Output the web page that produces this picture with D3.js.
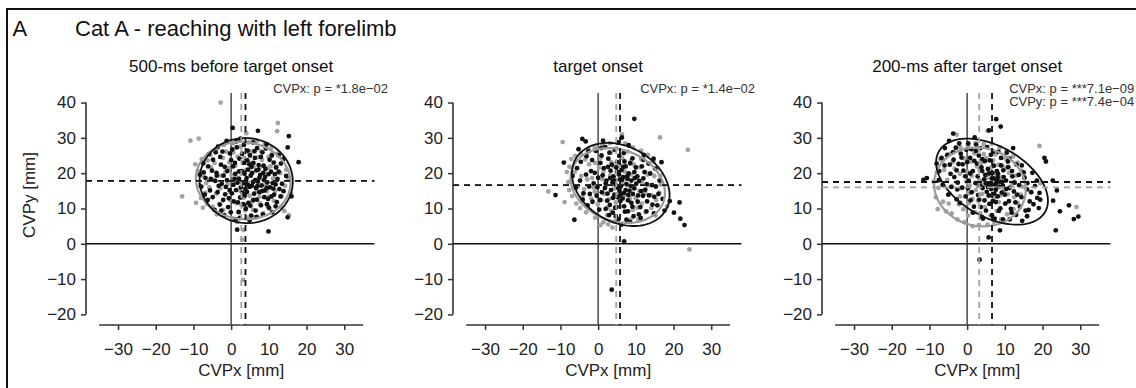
<!DOCTYPE html>
<html><head><meta charset="utf-8">
<script src="https://cdn.jsdelivr.net/npm/d3@7"></script>
<style>
html,body{margin:0;padding:0;background:#fff;}
svg{display:block;font-family:"Liberation Sans",Arial,Helvetica,sans-serif;}
</style></head>
<body><svg id="chart" width="1136" height="388"></svg>
<script>
// ---------- data ----------
const xTicks = [-30, -20, -10, 0, 10, 20, 30];
const yTicks = [-20, -10, 0, 10, 20, 30, 40];
const panelTitles = ["500-ms before target onset", "target onset", "200-ms after target onset"];
const pLabels = [
  ["CVPx: p = *1.8e\u221202"],
  ["CVPx: p = *1.4e\u221202"],
  ["CVPx: p = ***7.1e\u221209", "CVPy: p = ***7.4e\u221204"]
];
const grayMeanX = [2.7, 4.8, 3.2];
const blackMeanX = [3.8, 5.8, 6.6];
const grayMeanY = [17.8, 16.6, 16.0];
const blackMeanY = [17.8, 16.6, 17.5];
// ellipses: [cx, cy, semi-major, semi-minor, angle(deg)]
const grayEllipses = [[3.2, 17.9, 12.6, 10.9, -10], [5.2, 16.5, 13, 10, -25], [3.4, 16.1, 12.3, 11, -20]];
const blackEllipses = [[4.0, 17.9, 12.4, 12.0, -20], [6.0, 16.8, 14, 10.5, -35], [6.6, 17.6, 16.5, 9.8, -33]];

const p1Black = [
[0.4,32.8],[7.1,32],[15.3,30.5],[15,27.3],[17.9,23.1],[16,13.4],[15,7.5],[1.6,4],[9.9,3.5],[-7,13.9],
[-3.5,27.5],[-1.2,29.1],[2.5,29.8],[5.8,28.7],[9.4,28.2],[12.6,25.1],[-5.9,25.4],[-7.4,22.8],[-8.3,19.5],[-7.9,16.2],
[-6.2,12.4],[-4.4,9.6],[-1.8,8.1],[1.2,6.9],[4.9,6.6],[8.4,8.3],[11.8,10.6],[13.9,14.9],[14.6,19.2],[13.2,22.7],
[-5.1,20.7],[-4.2,17.8],[-3.6,14.6],[-2.7,22.4],[-2,19.3],[-1.4,16.1],[-0.6,12.9],[-0.3,25.6],[0.5,21.9],[0.9,18.4],
[1.3,15.2],[1.8,11.7],[2.2,24.1],[2.8,20.6],[3.1,17.1],[3.6,13.8],[3.9,9.9],[4.4,26.4],[4.8,22.5],[5.2,19.3],
[5.5,16.4],[5.9,12.4],[6.3,24.3],[6.7,20.8],[7.1,17.6],[7.5,14.6],[7.9,10.9],[8.3,25.9],[8.6,22.1],[9,18.9],
[9.4,15.8],[9.8,12.7],[10.2,23.8],[10.6,20.4],[11,17.2],[11.4,13.9],[11.9,21.6],[12.3,18.4],[12.8,15.5],[-3,11.1],
[-6.8,18.6],[-5.6,15.1],[-2.3,26.1],[0,23.7],[0.2,14.3],[1.5,27.3],[2,9],[2.6,16],[3.3,22.9],[4.1,18.6],
[4.6,11.6],[5,25],[5.6,20.1],[6.1,14.2],[6.5,9.4],[7.3,22.3],[7.7,19.5],[8.1,16.5],[8.8,13.2],[9.2,27],
[10,10.2],[10.8,25],[11.6,19.7],[12.1,11.8],[13.5,17],[-1,20.6],[-4.8,23.8],[-0.8,10.4],[3.4,28],[6.9,27.1],
[2.4,13.1],[5.3,8],[8.5,20],[-2.5,17],[1.1,19.8],[3.8,15.5],[6.4,18],[9.6,17.4],[-1.6,14],[4.5,21],
[-6.1,21.9],[-5.4,18.4],[-4.9,13.2],[-3.9,20.1],[-3.3,16.4],[-2.9,24.6],[-2.1,12.4],[-1.7,21.8],[-1.1,18],[-0.4,15.2],
[0.3,26.7],[0.7,12],[1,22.9],[1.7,17.3],[2.1,20.5],[2.9,25.5],[3.2,11.2],[3.5,19.9],[3.9,17.8],[4.2,14.7],
[4.3,23.6],[4.9,16.1],[5.1,10.8],[5.4,21.8],[5.8,17.5],[6.2,26.2],[6.6,15.8],[6.8,12.5],[7.2,21],[7.5,18.7],
[7.9,24.6],[8.2,14.9],[8.7,18],[9.1,21.2],[9.5,11.2],[9.9,19.7],[10.3,16],[10.7,13.4],[11.3,23],[11.8,16.8],
[12.6,20.4],[13.1,13.4],[-7.3,20.2],[-4.1,25.9],[-0.1,8.9],[2.3,7.3],[6.8,7.6],[10.9,8.9],[13.8,24],[1.4,29],
[-2.6,9.4],[0.6,16.7],[3,14.5],[5.9,22.9],[8.9,15.1],[11.2,15.6],[-3.8,19.3],[2.1,18.4],[7,16.3],[4.4,16.7]
];
const p1Gray = [
[-2.8,40],[-10.8,29.2],[-8.6,29.8],[12.4,34.2],[12.2,31.9],[-13,13.4],[-9.3,11.6],[-7.5,10.2],[14.1,9.3],[15.3,8.1],[4,31.3],
[-7.8,24],[-8.8,20.6],[-8.5,16.5],[-6.4,11.3],[-3.8,8.3],[0.4,7.2],[4.2,7.4],[8.5,8.6],[12.2,11.8],[14.3,16.4],[14.6,21],[12.4,25.6],[8.8,28],[4.6,28.7],[0.5,28.4],[-3.7,26.9],
[-5.3,21.6],[-4.6,18],[-4,14.2],[-2.2,24.3],[-1.5,20.4],[-0.9,16.9],[-0.2,12.4],[0.6,25.9],[1.1,22.1],[1.7,18.7],[2.2,15.1],[2.8,10.9],[3.5,24.4],[3.9,20.9],[4.5,17.3],[4.9,13.6],[5.5,26.1],[6,21.9],[6.6,18.1],[7,14.9],[7.6,11.5],[8.2,23.7],[8.7,20.3],[9.3,16.8],[9.9,13.3],[10.5,22],[11.1,18.5],[11.7,15],[-6.6,17.2],[-3.1,11.3],[1.9,8.9],[5.8,9.6],[10.8,25.4],
[-1.9,28],[2.5,27.5],[-6.2,23.6],[13,20],[3.3,13],[6.8,16.1],[0.1,19.5],[-2.9,15.7],[7.9,26.2],[9.7,10.7],[5.2,22.8],[2.7,20],[-0.5,23],[4.1,11],[11.3,12.2],
[3.2,-10.2],[2.9,1.2],[3.3,3.9],
[-7.2,19],[-6.9,14.4],[-5.5,25.2],[-4.9,10.5],[-2.1,9.6],[1.5,6.2],[6.3,7.5],[10.3,9.9],[13.4,13.4],[15.2,18.5],[13.8,23.6],[10.6,27.1],[6.8,29.1],[2.2,29.4],[-1.3,26.1],[-4.4,22.9],[-2.7,19.3],[-0.4,14.8],[1.4,11.5],[3.7,9.5],[5.6,12],[7.5,13.3],[9.5,14.9],[11.6,17.1],[12.1,21.8],[9.9,24.6],[7.2,24.5],[4.7,25.7],[1.7,24.7],[-0.7,21.4],[0.8,17],[3.1,17.3],[5.3,19.7],[7.6,21.6],[9.9,21.5],[-5.8,16],[13.2,10.5],[-8,13],[15.9,14.2],[-9.5,22.5]
];
const p2Black = [
[9.6,35.4],[-4.2,29.7],[-3.3,29],[6.3,30.1],[-9.1,23],[-11.3,13.8],[-6.3,6.8],[3.6,-13],[6.9,0.7],[16.8,23.1],[19,12.1],[20.1,8.8],[21.6,11.7],[21.8,7.1],[22.9,5.3],[17.6,9.4],[12.1,25.2],
[-5.6,21.4],[-4.8,17.9],[-3.9,14.3],[-2.8,10.9],[-3.1,24.8],[-1.9,20.6],[-1.2,17.1],[-0.4,13.6],[0.3,9.7],[-0.6,26.3],[0.6,22.9],[1.2,19.4],[1.8,15.8],[2.4,12.2],[2.9,8.1],[1.9,27.4],[2.7,24.1],[3.3,20.7],[3.8,17.4],[4.3,13.9],[4.9,10.4],[5.3,6.9],[4.4,26.6],[5,23.1],[5.5,19.6],[6,16.2],[6.5,12.8],[7.1,9.1],[6.8,25.7],[7.3,21.9],[7.8,18.4],[8.3,15],[8.8,11.6],[9.4,7.8],[9.1,24.2],[9.6,20.3],[10.1,17],[10.6,13.7],[11.2,10.4],[11.6,21.9],[12,18.5],[12.5,15.3],[13,12],[13.8,19.9],[14.3,16.6],[14.9,13.3],[15.7,10.9],[16.3,17.9],
[4.6,16.8],[5.8,18.2],[6.9,14.4],[3.4,15.2],[7.5,16.9],[5.1,13.2],[6.2,20.9],[8.1,19.9],[4.1,19.1],[2.2,17.9],[9.2,14.1],[7.9,12.3],[3.1,11],[5.7,15],[6.6,18.9],[8.6,16.4],[1,14.6],[10.4,19.1],[4.8,21.6],[7,23.3],[2.6,21.8],[-2.4,16.2],[0,18.7],[11.9,13.6],[13.4,22.7],[10.8,8.3],[12.8,9.2],[0.9,25],[3.9,8.8],[6.1,5.4],[8.4,6.2],[-1.5,11.9],[15.1,21.3],
[-6.8,19.2],[-5.9,15.9],[-4.6,23.2],[-4.1,12.5],[-3.2,19.6],[-2.2,14.1],[-1.6,23.7],[-0.9,20.1],[-0.2,16],[0.5,12.4],[0.8,27.1],[1.5,21.4],[2,17.1],[2.5,14.2],[3,25.8],[3.6,22.4],[3.9,13],[4.2,17.9],[4.5,10.2],[5,20.4],[5.3,15.8],[5.6,24.9],[5.9,12.1],[6.3,18.1],[6.7,21.8],[6.9,10.6],[7.3,15.2],[7.7,19.1],[8,13.8],[8.5,22.8],[8.8,17.9],[9.1,10.5],[9.6,15.7],[10,21.6],[10.5,11.9],[10.9,17.8],[11.4,14.9],[12,23.8],[12.3,20.3],[12.9,16.9],[13.5,13.7],[14.4,11.1],[15.3,16.2],[16,14.1],[17.1,12.7],[14.8,8.6],[4.7,7.8],[2,9.9],[7.5,6.8],[11.3,7.3],[-2.6,26.2],[-5.2,26.8],[1.3,29.2],[5.2,28.7],[8.1,27.9],[14.7,24.1],[3.2,18.6],[6,14],[9.7,18.6],[7.9,9.2]
];
const p2Gray = [
[-9.4,28.8],[16.4,30.1],[23.8,26.6],[-13.2,14.8],[-8.9,11.8],[24.2,-1.6],[18.3,10.6],[6.3,31],[0.6,5.3],
[-7.6,21.8],[-7.9,17.5],[-6.9,13.5],[-4.8,10.1],[-6.1,24.9],[-2.6,26.9],[1.2,27.9],[5.3,28.6],[9.3,27.3],[13.2,25.2],[15.8,21.4],[16.6,16.8],[15.4,12.4],[12.6,8.9],[8.6,6.8],[4.3,6.3],[-0.8,7.4],
[-4.5,19.2],[-3.7,15.5],[-2.4,22.5],[-1.6,18.6],[-0.9,14.7],[-0.1,11.2],[0.7,24.4],[1.4,20.3],[2.1,16.5],[2.8,12.6],[3.5,9.3],[3.4,25.8],[4,22],[4.7,18.1],[5.4,14.3],[6,10.6],[6.4,24.2],[7.1,20.4],[7.7,16.6],[8.4,12.9],[9.2,9.6],[9.5,22.4],[10.2,18.7],[10.9,15],[11.6,11.4],[12.5,20.3],[13.3,16.6],[14.1,13.8],[-5.3,16.3],[2.4,8.1],[7.8,26.1],[11.4,24],[0.2,21.5],[6.5,17.5],[3.2,19.4],[8.8,19.6],[5.7,12.2],[-1.8,12.8],[1.7,14.1],[10.4,10.2],[14.9,19.2],[-3.4,23.9],[4.9,27],[3.8,4.6],
[-7.1,24],[-8.3,20.3],[-7.7,15.2],[-5.8,11.4],[-3.2,8.9],[1.4,6.1],[6.4,5.6],[10.7,6.9],[14.1,10.1],[16.2,14.5],[16.5,19.2],[14.7,23.3],[11.4,26.4],[7.2,28.4],[3.1,28.5],[-0.9,27.3],[-4.6,25.6],[-6.2,20.3],[-2.9,18.2],[-1.2,15.9],[0.9,12.3],[2.5,10.2],[4.7,11.7],[6.8,13.5],[8.9,15.6],[11.6,17.3],[13.1,19.6],[11.1,21.7],[8.8,23.6],[5.9,22.2],[3.5,23.1],[1.1,18.3],[-0.8,22.9],[4.2,15.6],[7.5,18.4],[10,12.9],[12.5,14.3],[-4.2,13.3],[15.2,8],[2.7,5.5]
];
const p3Black = [
[7.7,35.3],[8.9,33.2],[5.8,32.1],[-3.7,31.2],[5.7,1.8],[3.3,-4.5],[8.7,3.8],[20.5,24.3],[20.9,23.3],[22.7,17.9],[23.8,15.1],[22.8,12.2],[24.6,9.2],[27,10.9],[28.3,7],[29.5,7.7],[23.5,3.8],[19.4,12.5],[-10.7,18.6],[-11.6,18.1],[15.9,7.8],
[-6.8,24.3],[-5.9,27.1],[-7.4,20.6],[-6.5,16.7],[-5,13.9],[-4.6,22.4],[-3.8,25.9],[-3.4,18.9],[-2.6,15.4],[-1.9,11.6],[-2.1,28.4],[-1.2,22.5],[-0.5,19.1],[0.2,15.7],[0.9,12.3],[1.5,8.8],[-0.2,26.6],[0.8,24.3],[1.5,20.6],[2.2,17.2],[2.9,13.8],[3.6,10.4],[4.2,7.1],[2.4,28.1],[3.1,25],[3.8,21.6],[4.5,18.2],[5.2,14.7],[5.9,11.3],[6.6,8.1],[5.3,27.4],[6,23.6],[6.7,20.1],[7.4,16.8],[8.1,13.4],[8.8,10],[9.5,6.9],[8.3,26],[9,22.2],[9.7,18.9],[10.4,15.5],[11.1,12.1],[11.8,8.8],[11.2,24.1],[11.9,20.6],[12.6,17.3],[13.3,13.9],[14,10.5],[14.5,22.2],[15.2,18.7],[15.9,15.4],[16.6,12],[17.3,20.1],[18,16.3],[18.6,13],
[6.1,17.2],[7,18.5],[5.5,16.1],[7.8,17.9],[8.6,16.2],[6.4,15.5],[7.2,14.2],[4.8,19.5],[9.3,17.5],[5.8,19.9],[3.4,16.5],[8.2,19.8],[10,13.9],[2.6,22.7],[-1.5,24.4],[1.1,26.8],[4,24],[0.4,17.9],[12.4,14.8],[13.7,19.5],[10.9,21.7],[7.6,11.8],[4.6,12.3],[16.3,9.6],[1.8,10.5],[-4.2,16.1],[13,8.2],[-2.8,20.8],[10.5,25.8],[6.9,26.1],
[-6,22.2],[-5.3,25.1],[-4.4,19.8],[-3.6,23.8],[-3,27.2],[-2.5,17.3],[-2.3,22.6],[-1.7,25.5],[-1,20.7],[-0.4,13.4],[0,23.1],[0.3,28.4],[0.8,19.9],[1.2,14.6],[1.9,23.5],[2.3,26.3],[2.8,19.1],[3.2,12.5],[3.5,27.1],[4,20.6],[4.1,15.8],[4.7,23.4],[5,9.4],[5.5,21.2],[5.8,13.7],[6.3,25.2],[6.5,18.5],[6.8,12.1],[7.1,22.1],[7.6,15.3],[7.9,20.6],[8.4,9.3],[8.6,17.6],[9,24.3],[9.2,14.5],[9.6,20.8],[10.1,11.4],[10.3,17.9],[10.8,23.3],[11.2,15.8],[11.6,9.9],[12,19.1],[12.8,11.7],[13.1,22.4],[13.8,16.6],[14.4,13.2],[15,20.2],[15.5,9.4],[16,17.2],[17,14.6],[17.6,11.2],[18.5,17.9],[19.2,14.4],[19,10.1],[14.6,6.5],[11.3,6.9],[12.2,27.1],[-7.5,18],[-8.1,22.7],[-4.8,29.1],[2,30.1],[-1.3,15.9],[3.9,7.6],[7.3,7.1],[-2.8,12.6],[5,17.1],[7.7,17.1],[9.5,16.4],[6.2,16.4],[8.1,18.8]
];
const p3Gray = [
[-7.8,9.8],[19.2,27.7],[29,10.4],[19.4,17.1],[5.4,32],[-2.8,30.9],
[-8,20.3],[-7.6,15.8],[-6.4,11.9],[-4.1,8.6],[-0.7,6.1],[3.1,5.3],[7.1,6.2],[10.6,8.3],[13.4,11.6],[14.8,16.1],[14.4,20.7],[12.2,24.7],[8.6,27.2],[4.4,28.2],[0.2,27.8],[-3.6,26],[-6.5,23.7],
[-5.3,18.1],[-4.6,14.2],[-3.3,21.3],[-2.6,17.4],[-1.9,13.4],[-1,9.8],[-0.8,24.2],[0,20.4],[0.7,16.5],[1.4,12.7],[2.1,8.9],[1.9,25.6],[2.6,21.9],[3.3,18],[4,14.1],[4.7,10.4],[5.1,24.3],[5.8,20.5],[6.5,16.7],[7.2,12.9],[7.9,9.3],[8.3,22.4],[9,18.8],[9.7,15.1],[10.4,11.5],[11.1,20.1],[11.8,16.6],[12.5,13.2],[-6.1,20.9],[2.9,12.2],[5.5,13.5],[3.7,22.8],[1.2,19.2],[6.9,23.6],[8.8,13.7],[-1.6,15.8],[4.3,16.8],[10.2,24.1],[12.9,19.3],[0.4,11.5],[6.2,8],[-4.9,11.4],[2.3,15.2],[7.5,19.7],
[-8.9,17.6],[-8.3,13.2],[-7.1,23.9],[-5.6,9.2],[-2.6,6.9],[1.5,5],[5.4,5.4],[9,6.9],[12.3,9.8],[14.2,13.9],[15.2,18.7],[13.4,23],[10.5,26.4],[6.5,28.3],[2.2,28.5],[-1.8,27.3],[-5,25.4],[-4,16.2],[-2.2,11.2],[0.2,8],[3.5,8.7],[6.1,11.3],[8.4,11.8],[10.8,14],[12.5,17.6],[10.5,21.5],[7.5,25.3],[4.4,25.4],[1,23.3],[-1.9,19.8],[-3.8,23.1],[0.5,14.3],[2.9,16.4],[5.2,18.6],[7.7,15.4],[9.4,21.9],[-6.2,16.5],[3.3,20.9],[-0.2,17.6],[6.4,21.6]
];
const blackPoints = [p1Black, p2Black, p3Black];
const grayPoints = [p1Gray, p2Gray, p3Gray];

// ---------- layout ----------
const svg = d3.select("#chart");
const GRAY = "#a3a3a3", BLACK = "#111";
const panelLeft = [86, 453, 822];
const plotW = 288.4, plotTop = 93, plotBottom = 325;

// frame
svg.append("line").attr("x1", 7).attr("x2", 7).attr("y1", 9).attr("y2", 388).attr("stroke", "#111").attr("stroke-width", 2);
svg.append("line").attr("x1", 6).attr("x2", 1136).attr("y1", 9).attr("y2", 9).attr("stroke", "#111").attr("stroke-width", 2.2);
svg.append("text").attr("x", 12.5).attr("y", 36).attr("font-size", 22).attr("fill", "#111").text("A");
svg.append("text").attr("x", 75).attr("y", 36).attr("font-size", 22).attr("fill", "#111").text("Cat A - reaching with left forelimb");

function ellipsePts(e) {
  const [cx, cy, a, b, ang] = e;
  const th = ang * Math.PI / 180;
  return d3.range(0, 360, 3).map(d => {
    const t = d * Math.PI / 180;
    return [cx + a * Math.cos(t) * Math.cos(th) - b * Math.sin(t) * Math.sin(th),
            cy + a * Math.cos(t) * Math.sin(th) + b * Math.sin(t) * Math.cos(th)];
  });
}

panelTitles.forEach((title, i) => {
  const x = d3.scaleLinear().domain([-38.5, 38]).range([panelLeft[i], panelLeft[i] + plotW]);
  const y = d3.scaleLinear().domain([-23, 42.7]).range([plotBottom, plotTop]);
  const g = svg.append("g");
  const x0 = x(0);

  // axes
  const xa = g.append("g").attr("transform", `translate(0,${plotBottom})`)
    .call(d3.axisBottom(x).tickValues(xTicks).tickSize(5).tickPadding(13).tickSizeOuter(0));
  xa.select(".domain").attr("d", `M${x(-35)},0H${x(35)}`);
  const ya = g.append("g").attr("transform", `translate(${panelLeft[i]},0)`)
    .call(d3.axisLeft(y).tickValues(yTicks).tickSize(5).tickPadding(5).tickSizeOuter(0));
  ya.select(".domain").attr("d", `M0,${y(40)}V${y(-20)}`);
  [xa, ya].forEach(a => {
    a.selectAll(".domain").attr("stroke", "#333").attr("stroke-width", 1.6);
    a.selectAll(".tick line").attr("stroke", "#333").attr("stroke-width", 1.5);
    a.selectAll(".tick text").attr("font-size", 17).attr("fill", "#222").attr("font-family", "Liberation Sans, Arial, sans-serif");
  });

  // zero lines
  g.append("line").attr("x1", x0).attr("x2", x0).attr("y1", y(42.7)).attr("y2", plotBottom)
    .attr("stroke", "#555").attr("stroke-width", 1.6);
  g.append("line").attr("x1", panelLeft[i]).attr("x2", x(38)).attr("y1", y(0)).attr("y2", y(0))
    .attr("stroke", "#111").attr("stroke-width", 1.6);

  // points
  g.append("g").selectAll("circle").data(grayPoints[i]).join("circle")
    .attr("cx", d => x(d[0])).attr("cy", d => y(d[1])).attr("r", 2.4).attr("fill", GRAY);
  g.append("g").selectAll("circle").data(blackPoints[i]).join("circle")
    .attr("cx", d => x(d[0])).attr("cy", d => y(d[1])).attr("r", 2.4).attr("fill", BLACK);

  // ellipses
  const line = d3.line().x(d => x(d[0])).y(d => y(d[1])).curve(d3.curveLinearClosed);
  g.append("path").attr("d", line(ellipsePts(grayEllipses[i]))).attr("fill", "none").attr("stroke", "#9a9a9a").attr("stroke-width", 2.2);
  g.append("path").attr("d", line(ellipsePts(blackEllipses[i]))).attr("fill", "none").attr("stroke", BLACK).attr("stroke-width", 1.8);

  // mean dashed lines
  const dash = "6,5";
  g.append("line").attr("x1", x(grayMeanX[i])).attr("x2", x(grayMeanX[i])).attr("y1", y(42.7)).attr("y2", plotBottom)
    .attr("stroke", GRAY).attr("stroke-width", 1.8).attr("stroke-dasharray", dash);
  g.append("line").attr("x1", x(blackMeanX[i])).attr("x2", x(blackMeanX[i])).attr("y1", y(42.7)).attr("y2", plotBottom)
    .attr("stroke", BLACK).attr("stroke-width", 1.8).attr("stroke-dasharray", dash);
  g.append("line").attr("x1", panelLeft[i]).attr("x2", x(38)).attr("y1", y(grayMeanY[i])).attr("y2", y(grayMeanY[i]))
    .attr("stroke", GRAY).attr("stroke-width", 1.8).attr("stroke-dasharray", dash);
  g.append("line").attr("x1", panelLeft[i]).attr("x2", x(38)).attr("y1", y(blackMeanY[i])).attr("y2", y(blackMeanY[i]))
    .attr("stroke", BLACK).attr("stroke-width", 1.8).attr("stroke-dasharray", dash);

  // texts
  g.append("text").attr("x", x0).attr("y", 72).attr("text-anchor", "middle").attr("font-size", 17).attr("fill", "#111").text(title);
  pLabels[i].forEach((t, k) => {
    g.append("text").attr("x", x0 + 42).attr("y", 93 + k * 13).attr("font-size", 13).attr("fill", "#333").text(t);
  });
  g.append("text").attr("x", x0 + 10).attr("y", 376).attr("text-anchor", "middle").attr("font-size", 17).attr("fill", "#222").text("CVPx [mm]");
  if (i === 0) {
    g.append("text").attr("transform", `translate(35,195) rotate(-90)`).attr("text-anchor", "middle")
      .attr("font-size", 17).attr("fill", "#222").text("CVPy [mm]");
  }
});
</script></body></html>
